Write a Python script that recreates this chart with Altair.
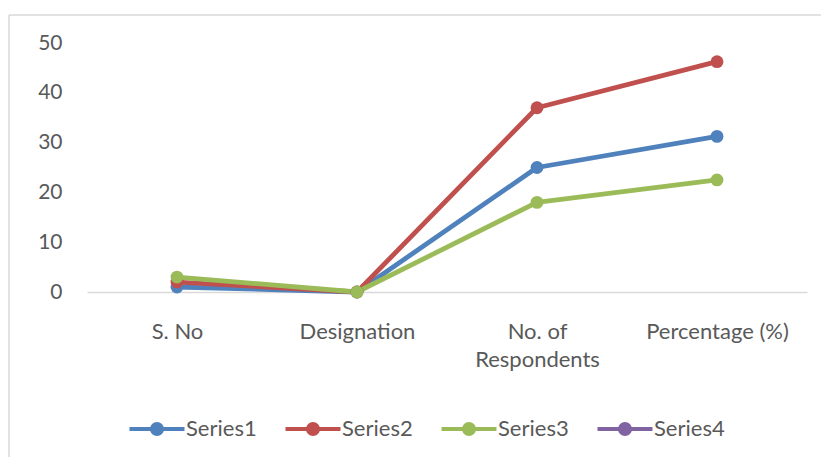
import altair as alt
import pandas as pd

# Categories along the x axis and the values of each series
categories = ["S. No", "Designation", "No. of Respondents", "Percentage (%)"]
series_names = ["Series1", "Series2", "Series3", "Series4"]
series1 = [1, 0, 25, 31.25]
series2 = [2, 0, 37, 46.25]
series3 = [3, 0, 18, 22.5]
series4 = [None, None, None, None]
series_colors = ["#4F81BD", "#C0504D", "#9BBB59", "#8064A2"]

rows = []
for name, vals in zip(series_names, [series1, series2, series3, series4]):
    for cat, v in zip(categories, vals):
        rows.append({"category": cat, "value": v, "series": name})
df = pd.DataFrame(rows)

FONT = "Lato"
TEXT = "#595959"
GRID = "#D9D9D9"

# legend swatch: a short line with a dot in the middle
swatch = (
    "M-2.75,0H2.75"
    "M0.5,0A0.5,0.5,0,1,1,-0.5,0A0.5,0.5,0,1,1,0.5,0"
    "M0.2,0A0.2,0.2,0,1,1,-0.2,0A0.2,0.2,0,1,1,0.2,0"
)

base = alt.Chart(df).encode(
    x=alt.X(
        "category:N",
        sort=categories,
        scale=alt.Scale(type="point", padding=0.5),
        axis=alt.Axis(
            title=None,
            labelAngle=0,
            ticks=False,
            domainColor=GRID,
            domainWidth=1.5,
            labelFont=FONT,
            labelFontSize=22,
            labelColor=TEXT,
            labelPadding=29,
            labelLineHeight=28,
            labelExpr="datum.value == 'No. of Respondents' ? ['No. of', 'Respondents'] : datum.value",
        ),
    ),
    y=alt.Y(
        "value:Q",
        scale=alt.Scale(domain=[0, 50], nice=False),
        axis=alt.Axis(
            title=None,
            values=[0, 10, 20, 30, 40, 50],
            ticks=False,
            domain=False,
            grid=False,
            labelFont=FONT,
            labelFontSize=21,
            labelColor=TEXT,
            labelPadding=25,
        ),
    ),
    color=alt.Color(
        "series:N",
        scale=alt.Scale(domain=series_names, range=series_colors),
        legend=alt.Legend(
            title=None,
            orient="none",
            direction="horizontal",
            legendX=58,
            legendY=374,
            padding=0,
            symbolType=swatch,
            symbolSize=400,
            symbolStrokeWidth=4,
            symbolOpacity=1,
            labelFont=FONT,
            labelFontSize=22,
            labelColor=TEXT,
            labelOffset=17,
            columnPadding=20,
        ),
    ),
)

lines = base.mark_line(strokeWidth=4.8, strokeJoin="round", strokeCap="round")
points = base.mark_circle(size=165, opacity=1)

frame_src = alt.Chart(pd.DataFrame({"k": [0]}))
left_edge = frame_src.mark_rule(color=GRID, strokeWidth=1.5).encode(
    x=alt.value(-78), y=alt.value(-28), y2=alt.value(414)
)
top_edge = frame_src.mark_rule(color=GRID, strokeWidth=1.5).encode(
    x=alt.value(-78), x2=alt.value(734), y=alt.value(-28)
)

chart = (
    alt.layer(left_edge, top_edge, lines, points)
    .properties(
        width=720,
        height=249,
        autosize=alt.AutoSizeParams(type="none"),
        padding={"left": 87, "top": 43, "right": 14, "bottom": 165},
        background="white",
    )
    .configure_view(stroke=None)
)

chart.save("out.html", embed_options={"renderer": "svg", "actions": False})
